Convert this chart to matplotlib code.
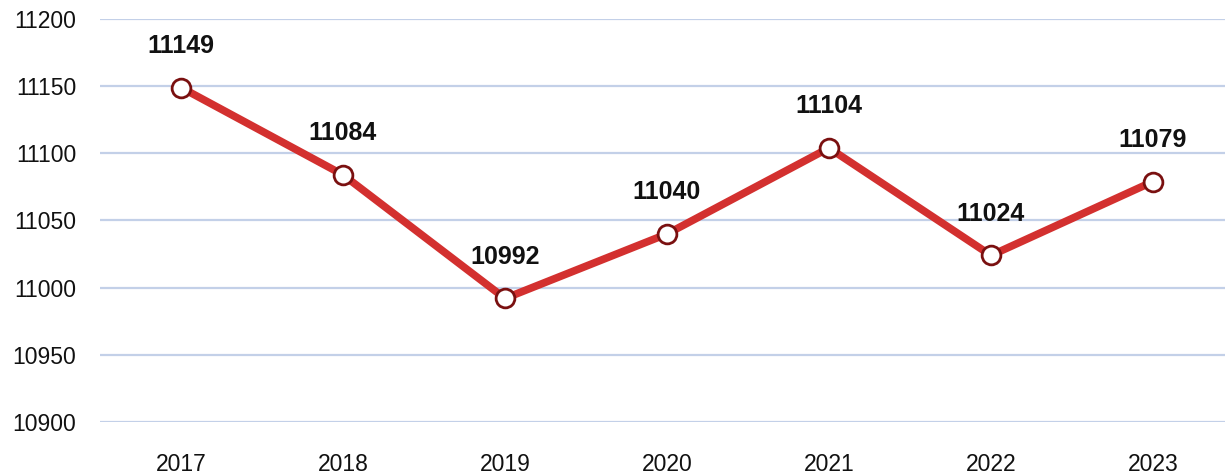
import matplotlib
matplotlib.use("Agg")
import matplotlib.pyplot as plt

years = ["2017", "2018", "2019", "2020", "2021", "2022", "2023"]
values = [11149, 11084, 10992, 11040, 11104, 11024, 11079]
yticks = [10900, 10950, 11000, 11050, 11100, 11150, 11200]

plt.rcParams["font.family"] = ["Liberation Sans", "DejaVu Sans"]

fig = plt.figure(figsize=(12.25, 4.75), dpi=100)
ax = fig.add_axes([100/1225, 1-422/475, 1-100/1225, (422-19)/475])

x = list(range(len(years)))
ax.plot(x, values, color="#D3302F", lw=5.5, solid_capstyle="round", zorder=3)
ax.plot(x, values, "o", ms=13.5, mfc="white", mec="#7A1010", mew=2, zorder=4, clip_on=False)
for xi, v in zip(x, values):
    ax.annotate(str(v), (xi, v), xytext=(0, 30), textcoords="offset points",
                ha="center", va="center", fontsize=18, fontweight="bold", color="#111111")

ax.set_xlim(-0.5, (1225-181)/162)
ax.set_ylim(10900, 11200)
ax.set_yticks(yticks)
ax.set_xticks(x)
ax.set_xticklabels(years)
ax.grid(axis="y", color="#C3D0E8", lw=1.6)
ax.set_axisbelow(True)
for s in ax.spines.values():
    s.set_visible(False)
ax.tick_params(length=0, labelsize=16.5, colors="#111111")
ax.tick_params(axis="y", pad=17)
ax.tick_params(axis="x", pad=22)

fig.savefig("out.png", dpi=100)
